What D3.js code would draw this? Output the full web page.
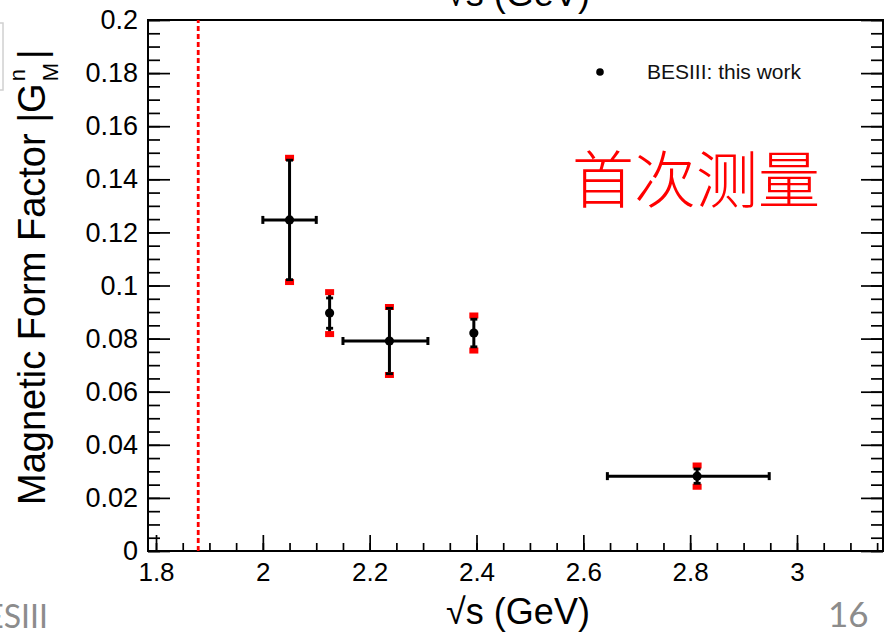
<!DOCTYPE html>
<html lang="en">
<head>
<meta charset="UTF-8">
<title>Magnetic Form Factor</title>
<script src="https://cdn.jsdelivr.net/npm/d3@7"></script>
<style>
  body { margin: 0; background: #fff; }
  text { font-family: "Liberation Sans", Arial, sans-serif; }
  .tick line { stroke: #000; stroke-width: 1.7; }
  .tick text { font-size: 26px; fill: #000; font-family: "Liberation Sans", Arial, sans-serif; }
  .ylab .tick text { font-size: 27px; }
</style>
</head>
<body>
<svg id="chart" width="887" height="634"></svg>
<script>
// values
const sqrtS   = [2.05, 2.125, 2.237, 2.395, 2.813];
const gmn     = [0.1247, 0.0896, 0.0791, 0.0821, 0.0282];
const statErr = [0.0225, 0.0057, 0.0123, 0.0052, 0.0027];
const totErr  = [0.0234, 0.0079, 0.0128, 0.0066, 0.0040];
const binLo   = [2.0, 2.125, 2.150, 2.395, 2.645];
const binHi   = [2.1, 2.125, 2.309, 2.395, 2.948];
const threshold = 1.879; // 2 m_n

const xTicks = [1.8, 2.0, 2.2, 2.4, 2.6, 2.8, 3.0];
const xTickLabels = ["1.8", "2", "2.2", "2.4", "2.6", "2.8", "3"];
const yTicks = [0, 0.02, 0.04, 0.06, 0.08, 0.1, 0.12, 0.14, 0.16, 0.18, 0.2];
const yTickLabels = ["0", "0.02", "0.04", "0.06", "0.08", "0.1", "0.12", "0.14", "0.16", "0.18", "0.2"];

const svg = d3.select("#chart");

const x = d3.scaleLinear().domain([1.785, 3.161]).range([148, 883]);
const y = d3.scaleLinear().domain([0, 0.2]).range([551, 20]);

const xMinor = d3.range(1.8, 3.16, 0.05);
const yMinor = d3.range(0, 0.2001, 0.005);

// x axis (ticks pointing up)
svg.append("g")
    .attr("transform", `translate(0,${y(0)})`)
    .call(d3.axisBottom(x).tickValues(xMinor).tickSize(-8).tickFormat(""))
    .call(g => g.select(".domain").remove());
svg.append("g")
    .attr("transform", `translate(0,${y(0)})`)
    .call(d3.axisBottom(x).tickValues(xTicks).tickSize(-16).tickPadding(12)
        .tickFormat(d => xTickLabels[xTicks.indexOf(d)]))
    .call(g => g.select(".domain").remove());

// y axis left
svg.append("g")
    .attr("transform", `translate(${x.range()[0]},0)`)
    .call(d3.axisLeft(y).tickValues(yMinor).tickSize(-12).tickFormat(""))
    .call(g => g.select(".domain").remove());
svg.append("g")
    .attr("class", "ylab")
    .attr("transform", `translate(${x.range()[0]},0)`)
    .call(d3.axisLeft(y).tickValues(yTicks).tickSize(-22).tickPadding(10)
        .tickFormat(d => yTickLabels[yTicks.indexOf(d)]))
    .call(g => g.select(".domain").remove());

// y axis right, no labels
svg.append("g")
    .attr("transform", `translate(${x.range()[1]},0)`)
    .call(d3.axisRight(y).tickValues(yMinor).tickSize(-12).tickFormat(""))
    .call(g => g.select(".domain").remove());
svg.append("g")
    .attr("transform", `translate(${x.range()[1]},0)`)
    .call(d3.axisRight(y).tickValues(yTicks).tickSize(-22).tickFormat(""))
    .call(g => g.select(".domain").remove());

// frame
svg.append("rect")
    .attr("x", x.range()[0])
    .attr("y", y.range()[1])
    .attr("width", x.range()[1] - x.range()[0])
    .attr("height", y.range()[0] - y.range()[1])
    .attr("fill", "none")
    .attr("stroke", "#000")
    .attr("stroke-width", 2);

// threshold line
svg.append("line")
    .attr("x1", x(threshold)).attr("x2", x(threshold))
    .attr("y1", y(0)).attr("y2", y(0.2))
    .attr("stroke", "#ff0000")
    .attr("stroke-width", 2.8)
    .attr("stroke-dasharray", "5,3");

const pts = sqrtS.map((s, i) => ({
    s: s, v: gmn[i], st: statErr[i], tot: totErr[i], lo: binLo[i], hi: binHi[i]
}));

const pg = svg.append("g").selectAll("g").data(pts).enter().append("g");

// vertical error line
pg.append("line")
    .attr("x1", d => x(d.s)).attr("x2", d => x(d.s))
    .attr("y1", d => y(d.v - d.tot)).attr("y2", d => y(d.v + d.tot))
    .attr("stroke", "#000").attr("stroke-width", 3);

// horizontal bin width
const hb = pg.filter(d => d.hi > d.lo);
hb.append("line")
    .attr("x1", d => x(d.lo)).attr("x2", d => x(d.hi))
    .attr("y1", d => y(d.v)).attr("y2", d => y(d.v))
    .attr("stroke", "#000").attr("stroke-width", 3);
["lo", "hi"].forEach(k => {
    hb.append("line")
        .attr("x1", d => x(d[k])).attr("x2", d => x(d[k]))
        .attr("y1", d => y(d.v) - 4).attr("y2", d => y(d.v) + 4)
        .attr("stroke", "#000").attr("stroke-width", 3);
});

// red caps (total error) and black caps (stat error)
[1, -1].forEach(sg => {
    pg.append("rect")
        .attr("x", d => x(d.s) - 4.5)
        .attr("y", d => y(d.v + sg * d.tot) - 3)
        .attr("width", 9).attr("height", 6)
        .attr("fill", "#ff0000");
    pg.append("rect")
        .attr("x", d => x(d.s) - 3.5)
        .attr("y", d => y(d.v + sg * d.st) - 1.4)
        .attr("width", 7).attr("height", 2.8)
        .attr("fill", "#000");
});

pg.append("circle")
    .attr("cx", d => x(d.s))
    .attr("cy", d => y(d.v))
    .attr("r", 4.6)
    .attr("fill", "#000");

// legend
svg.append("circle").attr("cx", 600).attr("cy", 72).attr("r", 3.8).attr("fill", "#000");
svg.append("text")
    .attr("x", 647).attr("y", 79)
    .style("font-size", "21px")
    .attr("fill", "#111")
    .text("BESIII: this work");

// red annotation
svg.append("text")
    .attr("x", 572).attr("y", 203)
    .style("font-family", "'Noto Sans CJK SC', sans-serif")
    .style("font-size", "62px")
    .style("font-weight", 300)
    .attr("fill", "#ff0000")
    .text("首次测量");

// axis titles
svg.append("text")
    .attr("x", 518).attr("y", 624)
    .attr("text-anchor", "middle")
    .style("font-size", "36px")
    .text("√s (GeV)");
svg.append("text")
    .attr("x", 518).attr("y", 6)
    .attr("text-anchor", "middle")
    .style("font-size", "36px")
    .text("√s (GeV)");

const yt = svg.append("text")
    .attr("transform", "translate(45,505) rotate(-90)")
    .style("font-size", "38px");
const main = yt.append("tspan").text("Magnetic Form Factor |G");
const len = main.node().getComputedTextLength();
yt.append("tspan").attr("x", len + 2).attr("y", -20).style("font-size", "22px").text("n");
yt.append("tspan").attr("x", len + 2).attr("y", 13).style("font-size", "22px").text("M");
yt.append("tspan").attr("x", len + 24).attr("y", 0).text("|");

// slide leftovers
svg.append("rect")
    .attr("x", -10).attr("y", 23).attr("width", 13).attr("height", 67)
    .attr("fill", "none").attr("stroke", "#d0d0d0").attr("stroke-width", 1.5);
svg.append("text")
    .attr("x", 48).attr("y", 628)
    .attr("text-anchor", "end")
    .style("font-family", "Lato, 'Open Sans', sans-serif")
    .style("font-size", "32px")
    .attr("fill", "#8c8c8c")
    .text("BESIII");
svg.append("text")
    .attr("x", 828).attr("y", 627)
    .style("font-family", "Lato, 'Open Sans', sans-serif")
    .style("font-size", "35px")
    .attr("fill", "#8c8c8c")
    .text("16");
</script>
</body>
</html>
